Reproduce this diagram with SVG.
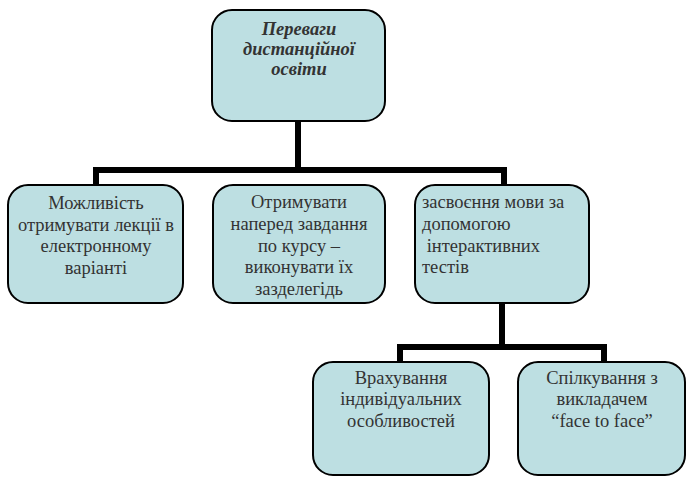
<svg xmlns="http://www.w3.org/2000/svg" width="687" height="478" viewBox="0 0 687 478">
<style>
.box{fill:#bddfe2;stroke:#000;stroke-width:2}
.t{font-family:'Liberation Serif','Tinos','Times New Roman','DejaVu Serif',serif;font-size:18.5px;fill:#333}
.c{text-anchor:middle}
.h{font-weight:bold;font-style:italic;font-size:18.5px}
.conn{fill:none;stroke:#000;stroke-width:6}
</style>
<rect width="687" height="478" fill="#fff"/>
<g id="connectors">
<path class="conn" d="M298 121V170M96 185V170H504V185"/>
<path class="conn" d="M502 303V347M400 362V347H604V362"/>
</g>
<g id="root">
<rect class="box" x="212" y="10" width="173" height="111" rx="20"/>
<text class="t c h" x="299" y="35">Переваги</text>
<text class="t c h" x="299" y="55">дистанційної</text>
<text class="t c h" x="299" y="75">освіти</text>
</g>
<g id="n1">
<rect class="box" x="8" y="185" width="175" height="118" rx="20"/>
<text class="t c" x="96" y="209">Можливість</text>
<text class="t c" x="96" y="231">отримувати лекції в</text>
<text class="t c" x="96" y="252">електронному</text>
<text class="t c" x="96" y="274">варіанті</text>
</g>
<g id="n2">
<rect class="box" x="213" y="185" width="172" height="118" rx="20"/>
<text class="t c" x="299" y="208">Отримувати</text>
<text class="t c" x="299" y="230">наперед завдання</text>
<text class="t c" x="299" y="252">по курсу –</text>
<text class="t c" x="299" y="273">виконувати їх</text>
<text class="t c" x="299" y="295">зазделегідь</text>
</g>
<g id="n3">
<rect class="box" x="415" y="185" width="174" height="118" rx="20"/>
<text class="t" x="422" y="208">засвоєння мови за</text>
<text class="t" x="422" y="230">допомогою</text>
<text class="t" x="422" y="252" xml:space="preserve"> інтерактивних</text>
<text class="t" x="422" y="273">тестів</text>
</g>
<g id="n4">
<rect class="box" x="313" y="362" width="176" height="113" rx="20"/>
<text class="t c" x="401" y="384">Врахування</text>
<text class="t c" x="401" y="405">індивідуальних</text>
<text class="t c" x="401" y="427">особливостей</text>
</g>
<g id="n5">
<rect class="box" x="518" y="362" width="167" height="113" rx="20"/>
<text class="t c" x="602" y="384">Спілкування з</text>
<text class="t c" x="602" y="405">викладачем</text>
<text class="t c" x="602" y="427">“face to face”</text>
</g>
</svg>
